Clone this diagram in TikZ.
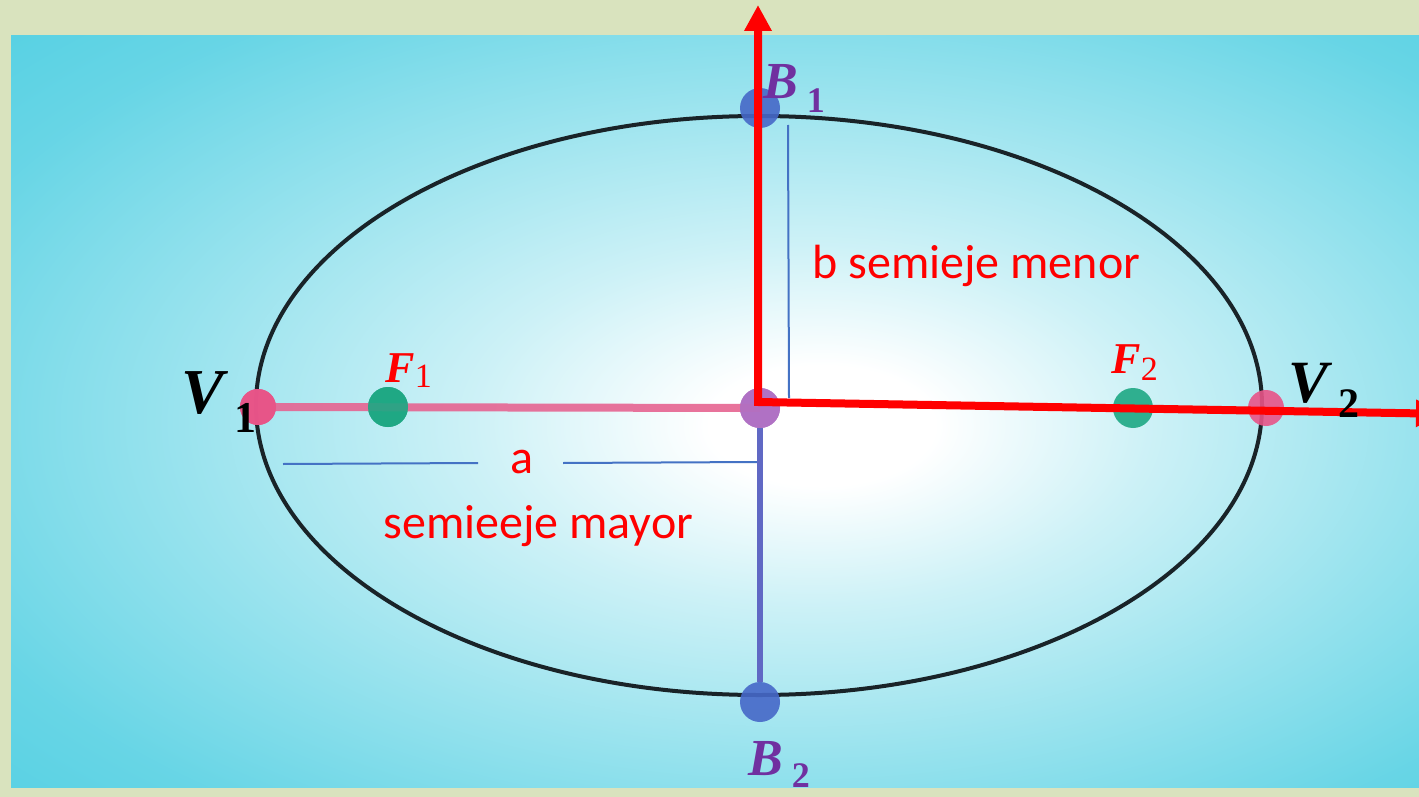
\documentclass[tikz,border=0pt]{standalone}
\usepackage{fontspec}
\setmainfont{Carlito}
\newfontfamily\lserif{Liberation Serif}
\usetikzlibrary{arrows.meta}
\definecolor{bggreen}{RGB}{217,227,190}
\definecolor{cyanbg}{RGB}{70,204,224}
\definecolor{pinkdot}{RGB}{232,84,136}
\definecolor{pinkline}{RGB}{230,100,145}
\definecolor{greendot}{RGB}{30,168,132}
\definecolor{bluedot}{RGB}{70,104,200}
\definecolor{purpledot}{RGB}{176,112,196}
\definecolor{vline}{RGB}{96,104,196}
\definecolor{thinblue}{RGB}{68,114,196}
\definecolor{labpurple}{RGB}{112,48,160}
\definecolor{ellcol}{RGB}{25,35,40}
\pgfdeclareradialshading{bgsh}{\pgfpoint{4bp}{-1bp}}{%
 color(0bp)=(white);
 color(4bp)=(white);
 color(12bp)=(cyanbg!27);
 color(22bp)=(cyanbg!55);
 color(32bp)=(cyanbg!82);
 color(42bp)=(cyanbg!97);
 color(50bp)=(cyanbg);
 color(80bp)=(cyanbg)}
\tikzset{
 dot/.style={circle,inner sep=0pt,fill opacity=0.9,draw=none},
 redtxt/.style={text=red,inner sep=0pt,font=\fontsize{24}{24}\selectfont},
 lab/.style={inner sep=0pt,anchor=base west},
 thin blue/.style={draw=thinblue,line width=1pt},
 axis/.style={draw=red,line width=4pt,line join=miter,
   {Triangle[width=13pt,length=13pt]}-{Triangle[width=13pt,length=13pt]}}
}
\begin{document}
\begin{tikzpicture}[x=0.5pt,y=-0.5pt]
\useasboundingbox (0,0) rectangle (1419,797);
\fill[bggreen] (0,0) rectangle (1419,797);
\shade[shading=bgsh] (11,36) rectangle (1419,787);
% ellipse
\draw[ellcol,line width=2pt] (759,405.5) ellipse [x radius=503, y radius=289.5];
% thin guide lines
\coordinate (g1) at (788,125);
\coordinate (g2) at (789,398);
\draw[thin blue] (g1) -- (g2);
\coordinate (h1) at (283,464);
\coordinate (h2) at (478,463);
\coordinate (h3) at (563,463);
\coordinate (h4) at (758,462);
\draw[thin blue] (h1) -- (h2);
\draw[thin blue] (h3) -- (h4);
% points
\node[dot,fill=pinkdot,minimum size=18pt] (V1) at (258,407) {};
\node[dot,fill=greendot,minimum size=20pt] (F1) at (388,407) {};
\node[dot,fill=purpledot,minimum size=20pt] (O) at (760,408) {};
\node[dot,fill=greendot,minimum size=20pt] (F2) at (1133,408) {};
\node[dot,fill=pinkdot,minimum size=18pt] (V2) at (1266,408) {};
\node[dot,fill=bluedot,minimum size=20pt] (B1) at (760,108) {};
\node[dot,fill=bluedot,minimum size=20pt] (B2) at (760,702) {};
% axis segments
\draw[pinkline,line width=4pt,opacity=0.9] (V1.center) -- (O.center);
\draw[vline,line width=3pt] (O.south) -- (B2.north);
\node[dot,fill=purpledot,minimum size=20pt] at (O) {};
\node[dot,fill=greendot,minimum size=20pt] at (F1) {};
\node[dot,fill=pinkdot,minimum size=18pt] at (V1) {};
% red axes
\coordinate (ytop) at (758,5);
\coordinate (corner) at (758,402);
\coordinate (xend) at (1442,413.8);
\draw[axis] (ytop) -- (corner) -- (xend);
% labels
\node[lab] (tV1) at (181,413) {\lserif\fontsize{32}{32}\selectfont\bfseries\itshape V\,\raisebox{-9.5pt}{\upshape\fontsize{22}{22}\selectfont 1}};
\node[lab] (tV2) at (1288,402) {\lserif\fontsize{30}{30}\selectfont\bfseries\itshape V\,\raisebox{-7.5pt}{\upshape\fontsize{21}{21}\selectfont 2}};
\node[lab,text=red] (tF1) at (385,382) {\lserif\fontsize{22}{22}\selectfont{\bfseries\itshape F}\raisebox{-2.5pt}{\fontsize{17}{17}\selectfont 1}};
\node[lab,text=red] (tF2) at (1111,373) {\lserif\fontsize{22}{22}\selectfont{\bfseries\itshape F}\raisebox{-3.5pt}{\fontsize{17}{17}\selectfont 2}};
\node[lab,text=labpurple] (tB1) at (763,98) {\lserif\fontsize{26}{26}\selectfont\bfseries\itshape B\,\raisebox{-7pt}{\upshape\fontsize{18}{18}\selectfont 1}};
\node[lab,text=labpurple] (tB2) at (748,775) {\lserif\fontsize{26}{26}\selectfont\bfseries\itshape B\,\raisebox{-6pt}{\upshape\fontsize{18}{18}\selectfont 2}};
\node[redtxt,anchor=base west] (tb) at (812,278) {b semieje menor};
\node[redtxt,anchor=base] (ta) at (522,473) {a};
\node[redtxt,anchor=base west] (tmay) at (383,538) {semieeje mayor};
\end{tikzpicture}
\end{document}
